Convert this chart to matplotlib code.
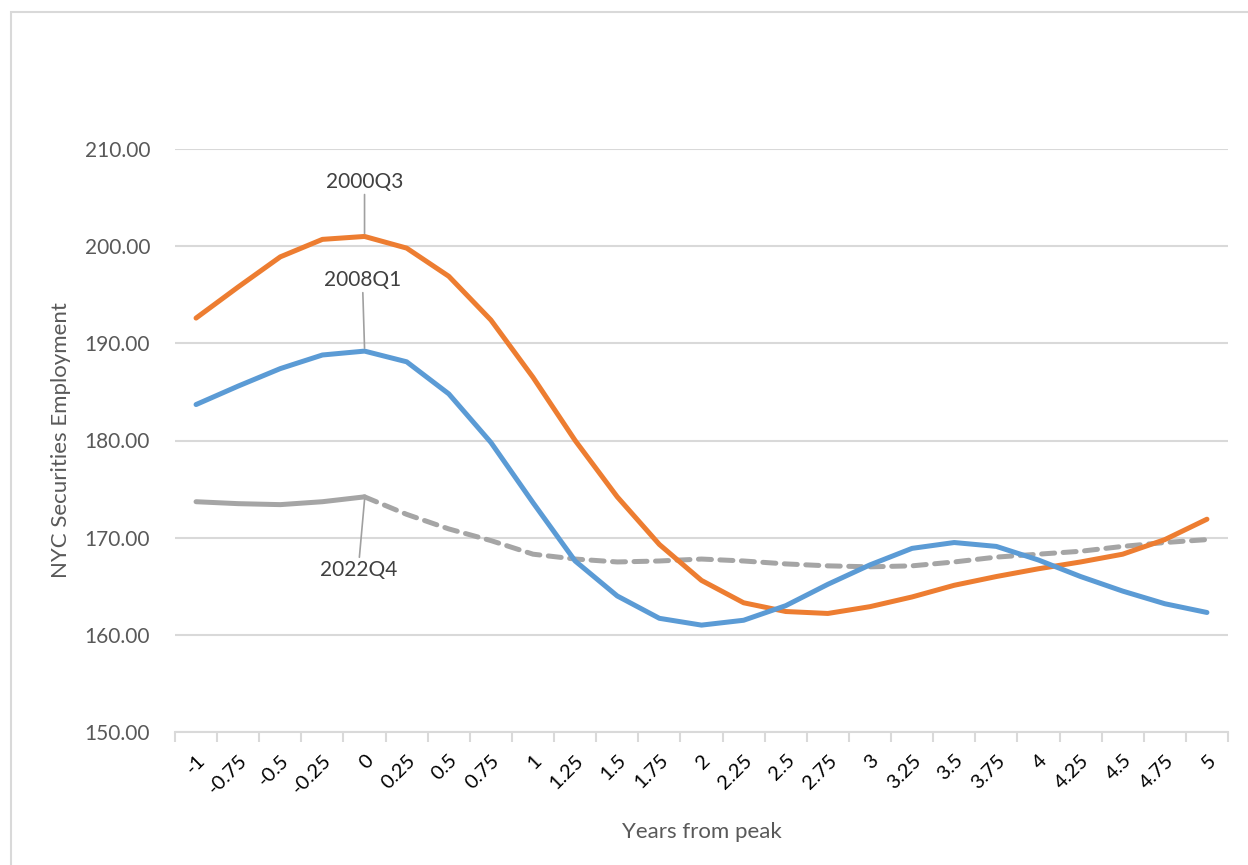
import numpy as np
import matplotlib.pyplot as plt
from matplotlib.patches import Rectangle

# datos
years = ["-1", "-0.75", "-0.5", "-0.25", "0", "0.25", "0.5", "0.75", "1",
         "1.25", "1.5", "1.75", "2", "2.25", "2.5", "2.75", "3", "3.25",
         "3.5", "3.75", "4", "4.25", "4.5", "4.75", "5"]
q2000 = [192.6, 195.8, 198.9, 200.7, 201.0, 199.8, 196.9, 192.4, 186.5,
         180.0, 174.2, 169.3, 165.6, 163.3, 162.4, 162.2, 162.9, 163.9,
         165.1, 166.0, 166.8, 167.5, 168.3, 169.8, 171.9]
q2008 = [183.7, 185.6, 187.4, 188.8, 189.2, 188.1, 184.8, 179.8, 173.6,
         167.6, 164.0, 161.7, 161.0, 161.5, 163.0, 165.2, 167.2, 168.9,
         169.5, 169.1, 167.7, 166.0, 164.5, 163.2, 162.3]
q2022 = [173.7, 173.5, 173.4, 173.7, 174.2, 172.4, 170.9, 169.7, 168.3,
         167.8, 167.5, 167.6, 167.8, 167.6, 167.3, 167.1, 167.0, 167.1,
         167.5, 168.0, 168.3, 168.6, 169.1, 169.5, 169.8]
peak = 4  # indice del año 0

plt.rcParams['font.family'] = ['Lato', 'DejaVu Sans']

fig = plt.figure(figsize=(12.48, 8.65), dpi=100)
ax = fig.add_axes([175 / 1248, 1 - 732 / 865, 1053 / 1248, (732 - 149) / 865])

# borde del grafico
fig.patches.append(Rectangle((11 / 1248, -0.1), 1.2, 1 - 12 / 865 + 0.1,
                             transform=fig.transFigure, fill=False,
                             edgecolor='#d9d9d9', lw=1.5))

x = np.arange(len(years))
lw = 3.6
ax.plot(x, q2000, color='#ED7D31', lw=lw, solid_capstyle='round', zorder=3)
ax.plot(x, q2008, color='#5B9BD5', lw=lw, solid_capstyle='round', zorder=3)
ax.plot(x[:peak + 1], q2022[:peak + 1], color='#A5A5A5', lw=lw,
        solid_capstyle='round', zorder=2)
ax.plot(x[peak:], q2022[peak:], color='#A5A5A5', lw=lw, ls=(0, (2.6, 1.7)),
        dash_capstyle='round', zorder=2)

ax.set_xlim(-0.5, len(years) - 0.5)
ax.set_ylim(150, 210)
ax.set_yticks(np.arange(150, 211, 10))
ax.set_yticklabels([f"{v:.2f}" for v in np.arange(150, 211, 10)])
ax.grid(axis='y', color='#d9d9d9', lw=1.5)
ax.set_axisbelow(True)
for s in ['top', 'right', 'left']:
    ax.spines[s].set_visible(False)
ax.spines['bottom'].set_color('#d9d9d9')
ax.spines['bottom'].set_linewidth(1.5)
ax.tick_params(axis='y', length=0, labelsize=15, labelcolor='#595959', pad=18)

ax.set_xticks(x)
ax.set_xticklabels(years, rotation=45, ha='right', rotation_mode='anchor',
                   fontsize=14.5, color='black')
ax.set_xticks(np.arange(-0.5, len(years)), minor=True)
ax.tick_params(axis='x', which='major', length=0, pad=14)
ax.tick_params(axis='x', which='minor', length=7, color='#d9d9d9', width=1.5)

ax.set_xlabel("Years from peak", fontsize=16, color='#595959', labelpad=18)
ax.set_ylabel("NYC Securities Employment", fontsize=16, color='#595959',
              labelpad=10)

# etiquetas de los picos
ann = dict(fontsize=15, color='#404040', ha='center')
line = dict(arrowstyle='-', color='#a0a0a0', lw=1.2, shrinkA=0, shrinkB=0)
ax.annotate("2000Q3", xy=(peak, q2000[peak] + 0.3), xytext=(peak, 205.6),
            va='bottom', arrowprops=line, **ann)
ax.annotate("2008Q1", xy=(peak, q2008[peak] + 0.3), xytext=(peak - 0.05, 195.5),
            va='bottom', arrowprops=line, **ann)
ax.annotate("2022Q4", xy=(peak, q2022[peak] - 0.3), xytext=(peak - 0.15, 167.7),
            va='top', arrowprops=line, **ann)

fig.savefig("out.png", dpi=100)
